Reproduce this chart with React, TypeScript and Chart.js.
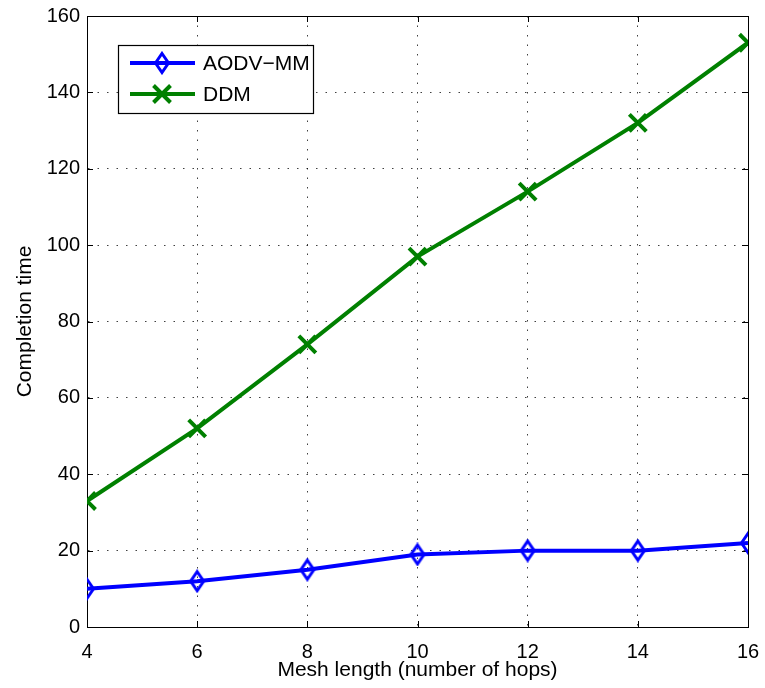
import React, { useEffect, useRef } from "react";
import { Chart, registerables } from "chart.js";

Chart.register(...registerables);

const hops = [4, 6, 8, 10, 12, 14, 16];
const aodvMM = [10, 12, 15, 19, 20, 20, 22];
const ddm = [33, 52, 74, 97, 114, 132, 153];
const xTicks = [4, 6, 8, 10, 12, 14, 16];
const yTicks = [0, 20, 40, 60, 80, 100, 120, 140, 160];

const FONT = "'Liberation Sans', Arial, Helvetica, sans-serif";

function makeDiamond(color: string) {
  const c = document.createElement("canvas");
  c.width = 20;
  c.height = 24;
  const g = c.getContext("2d")!;
  g.strokeStyle = color;
  g.lineWidth = 3;
  g.lineJoin = "miter";
  g.beginPath();
  g.moveTo(10, 2.5);
  g.lineTo(16.5, 12);
  g.lineTo(10, 21.5);
  g.lineTo(3.5, 12);
  g.closePath();
  g.stroke();
  return c;
}

const framePlugin = {
  id: "frame",
  beforeDatasetsDraw(chart: any) {
    const { ctx, chartArea: a, scales } = chart;
    ctx.save();
    ctx.strokeStyle = "#000";
    ctx.lineWidth = 1;
    ctx.strokeRect(Math.round(a.left) + 0.5, Math.round(a.top) + 0.5, Math.round(a.right - a.left), Math.round(a.bottom - a.top));
    const L = 6;
    ctx.beginPath();
    scales.x.ticks.forEach((t: any) => {
      const px = Math.round(scales.x.getPixelForValue(t.value)) + 0.5;
      ctx.moveTo(px, a.bottom);
      ctx.lineTo(px, a.bottom - L);
      ctx.moveTo(px, a.top);
      ctx.lineTo(px, a.top + L);
    });
    scales.y.ticks.forEach((t: any) => {
      const py = Math.round(scales.y.getPixelForValue(t.value)) + 0.5;
      ctx.moveTo(a.left, py);
      ctx.lineTo(a.left + L, py);
      ctx.moveTo(a.right, py);
      ctx.lineTo(a.right - L, py);
    });
    ctx.stroke();
    ctx.restore();
  },
};

const legendPlugin = {
  id: "matlabLegend",
  afterDraw(chart: any) {
    const { ctx } = chart;
    const box = { x: 118, y: 45, w: 195, h: 68 };
    ctx.save();
    ctx.fillStyle = "#fff";
    ctx.fillRect(box.x, box.y, box.w, box.h);
    ctx.strokeStyle = "#000";
    ctx.lineWidth = 1.2;
    ctx.strokeRect(box.x + 0.5, box.y + 0.5, box.w, box.h);
    const rows = [63, 94];
    chart.data.datasets.forEach((ds: any, i: number) => {
      const y = rows[i];
      ctx.strokeStyle = ds.borderColor;
      ctx.lineWidth = ds.borderWidth;
      ctx.beginPath();
      ctx.moveTo(130, y);
      ctx.lineTo(195, y);
      ctx.stroke();
      if (typeof ds.pointStyle !== "string") {
        const img = ds.pointStyle as HTMLCanvasElement;
        ctx.drawImage(img, 162 - img.width / 2, y - img.height / 2);
      } else {
        ctx.lineWidth = ds.pointBorderWidth;
        ctx.strokeStyle = ds.pointBorderColor;
        ctx.beginPath();
        const s = ds.pointRadius * Math.SQRT1_2;
        ctx.moveTo(162 - s, y - s);
        ctx.lineTo(162 + s, y + s);
        ctx.moveTo(162 + s, y - s);
        ctx.lineTo(162 - s, y + s);
        ctx.stroke();
      }
      ctx.fillStyle = "#000";
      ctx.font = `21px ${FONT}`;
      ctx.textBaseline = "middle";
      ctx.textAlign = "left";
      ctx.fillText(ds.label, 203, y + 1);
    });
    ctx.restore();
  },
};

export default function App() {
  const ref = useRef<HTMLCanvasElement>(null);
  useEffect(() => {
    const diamond = makeDiamond("#0000ff");
    const zeroPad = (s: any) => {
      s.paddingLeft = 0;
      s.paddingRight = 0;
      s.paddingTop = 0;
      s.paddingBottom = 0;
    };
    const chart = new Chart(ref.current!, {
      type: "line",
      data: {
        datasets: [
          {
            label: "AODV\u2212MM",
            data: hops.map((h, i) => ({ x: h, y: aodvMM[i] })),
            borderColor: "#0000ff",
            borderWidth: 4,
            pointStyle: diamond as any,
            pointRadius: 8,
            pointBorderWidth: 3,
            pointBorderColor: "#0000ff",
            pointBackgroundColor: "rgba(255,255,255,0)",
            tension: 0,
          },
          {
            label: "DDM",
            data: hops.map((h, i) => ({ x: h, y: ddm[i] })),
            borderColor: "#008000",
            borderWidth: 4,
            pointStyle: "crossRot",
            pointRadius: 12,
            pointBorderWidth: 4,
            pointBorderColor: "#008000",
            pointBackgroundColor: "#008000",
            tension: 0,
          },
        ],
      },
      options: {
        responsive: false,
        animation: false,
        devicePixelRatio: 1,
        layout: { autoPadding: false, padding: { left: 0, top: 16, right: 17, bottom: 0 } },
        plugins: { legend: { display: false }, tooltip: { enabled: false } },
        scales: {
          x: {
            type: "linear",
            min: 4,
            max: 16,
            afterFit: (s: any) => {
              s.height = 61;
              zeroPad(s);
            },
            afterBuildTicks: (s: any) => {
              s.ticks = xTicks.map((v) => ({ value: v }));
            },
            ticks: {
              color: "#000",
              font: { family: FONT, size: 20 },
              padding: 13,
              maxRotation: 0,
            },
            grid: {
              color: "rgba(0,0,0,0.75)",
              lineWidth: 1,
              drawTicks: false,
            },
            border: { display: true, color: "#000", width: 1, dash: [1.5, 8] },
            title: {
              display: true,
              text: "Mesh length (number of hops)",
              color: "#000",
              font: { family: FONT, size: 21 },
              padding: { top: 0, bottom: 5 },
            },
          },
          y: {
            type: "linear",
            min: 0,
            max: 160,
            afterFit: (s: any) => {
              s.width = 87;
              zeroPad(s);
            },
            afterBuildTicks: (s: any) => {
              s.ticks = yTicks.map((v) => ({ value: v }));
            },
            ticks: {
              color: "#000",
              font: { family: FONT, size: 20 },
              padding: 7,
            },
            grid: {
              color: "rgba(0,0,0,0.75)",
              lineWidth: 1,
              drawTicks: false,
            },
            border: { display: true, color: "#000", width: 1, dash: [1.5, 8] },
            title: {
              display: true,
              text: "Completion time",
              color: "#000",
              font: { family: FONT, size: 21 },
              padding: { top: 13, bottom: 0 },
            },
          },
        },
      },
      plugins: [framePlugin, legendPlugin],
    });
    return () => chart.destroy();
  }, []);
  return (
    <div style={{ position: "fixed", left: 0, top: 0, width: 765, height: 688, background: "#fff" }}>
      <canvas ref={ref} width={765} height={688} style={{ display: "block" }} />
    </div>
  );
}
